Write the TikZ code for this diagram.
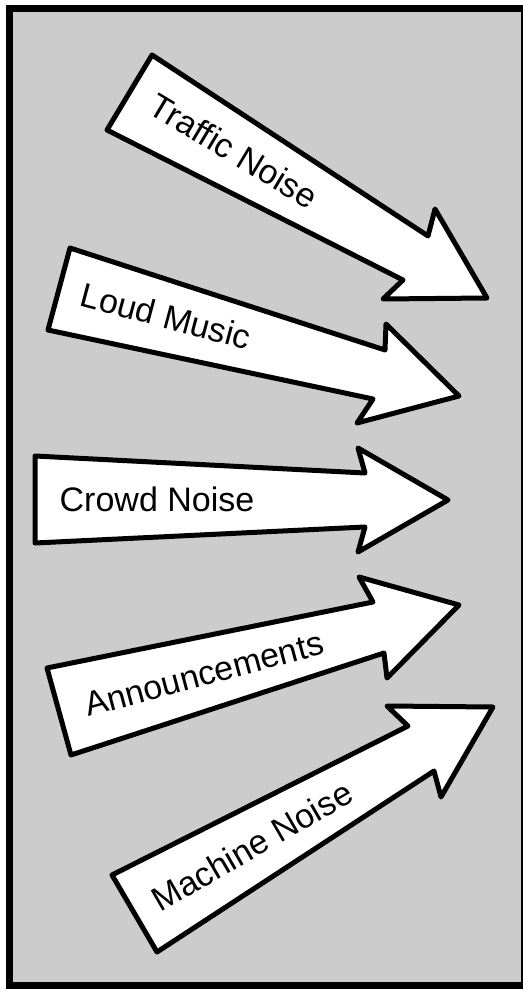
\documentclass[tikz,border=0pt]{standalone}
\usepackage{fontspec}
\setmainfont{Liberation Sans}
\usepackage{xcolor}
\definecolor{panelgray}{HTML}{CCCCCC}
\tikzset{
    panel/.style={draw=black, fill=panelgray, line width=3.5pt},
    noisearrow/.style={draw=black, fill=white, line width=2.5pt, line join=round},
    noiselabel/.style={font=\fontsize{17}{20}\selectfont, inner sep=0pt},
}

\begin{document}
\begin{tikzpicture}[x=0.5pt, y=-0.5pt]
    \useasboundingbox (0,0) rectangle (523,989);
    \draw[panel] (9.5,8.5) rectangle (524.5,985.5);

    % Traffic Noise
    \draw[noisearrow] (152,55) -- (428,236) -- (435,209) -- (487,298) -- (383,299) -- (403,280) -- (107,130) -- cycle;
    \node[noiselabel, rotate=-31] (traffic) at (234,151) {Traffic Noise};

    % Loud Music
    \draw[noisearrow] (70,248) -- (385,350) -- (386,324) -- (459,396) -- (357,423) -- (373,399) -- (48,330) -- cycle;
    \node[noiselabel, rotate=-15] (music) at (166,316) {Loud Music};

    % Crowd Noise
    \draw[noisearrow] (35,456) -- (365,473) -- (358,448) -- (448,500) -- (358,552) -- (365,527) -- (35,543) -- cycle;
    \node[noiselabel] (crowd) at (157,499.5) {Crowd Noise};

    % Announcements
    \draw[noisearrow] (47,668) -- (373,602) -- (359,577) -- (459,605) -- (387,678) -- (384,653) -- (71,755) -- cycle;
    \node[noiselabel, rotate=15] (announce) at (204,674) {Announcements};

    % Machine Noise
    \draw[noisearrow] (112,875) -- (408,726) -- (387,706) -- (493,707) -- (441,797) -- (434,771) -- (157,952) -- cycle;
    \node[noiselabel, rotate=30] (machine) at (252,846) {Machine Noise};
\end{tikzpicture}
\end{document}
